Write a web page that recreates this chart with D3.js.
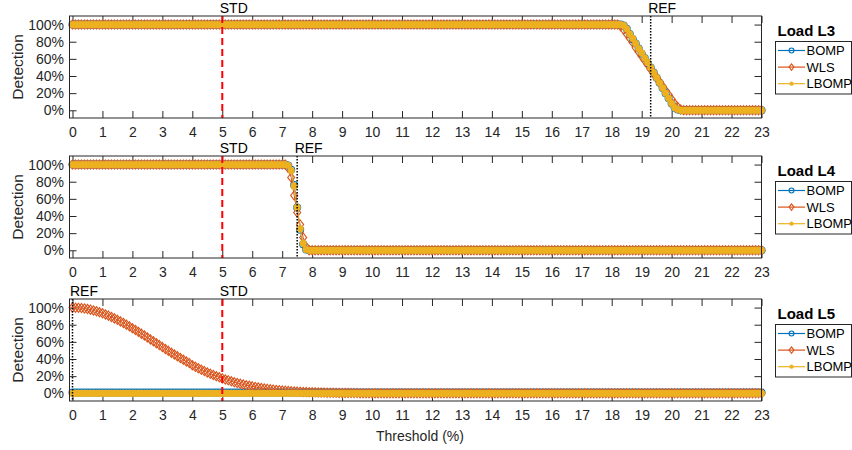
<!DOCTYPE html>
<html>
<head>
<meta charset="utf-8">
<script src="https://cdn.jsdelivr.net/npm/d3@7"></script>
<style>
    body { margin: 0; background: #fff; }
    text { font-family: "Liberation Sans", Arial, sans-serif; }
</style>
</head>
<body>
<div id="chart"></div>
<script>
// threshold (%) sampled every 0.1
const thresholds = [
    0, 0.1, 0.2, 0.3, 0.4, 0.5, 0.6, 0.7, 0.8, 0.9,
    1, 1.1, 1.2, 1.3, 1.4, 1.5, 1.6, 1.7, 1.8, 1.9,
    2, 2.1, 2.2, 2.3, 2.4, 2.5, 2.6, 2.7, 2.8, 2.9,
    3, 3.1, 3.2, 3.3, 3.4, 3.5, 3.6, 3.7, 3.8, 3.9,
    4, 4.1, 4.2, 4.3, 4.4, 4.5, 4.6, 4.7, 4.8, 4.9,
    5, 5.1, 5.2, 5.3, 5.4, 5.5, 5.6, 5.7, 5.8, 5.9,
    6, 6.1, 6.2, 6.3, 6.4, 6.5, 6.6, 6.7, 6.8, 6.9,
    7, 7.1, 7.2, 7.3, 7.4, 7.5, 7.6, 7.7, 7.8, 7.9,
    8, 8.1, 8.2, 8.3, 8.4, 8.5, 8.6, 8.7, 8.8, 8.9,
    9, 9.1, 9.2, 9.3, 9.4, 9.5, 9.6, 9.7, 9.8, 9.9,
    10, 10.1, 10.2, 10.3, 10.4, 10.5, 10.6, 10.7, 10.8, 10.9,
    11, 11.1, 11.2, 11.3, 11.4, 11.5, 11.6, 11.7, 11.8, 11.9,
    12, 12.1, 12.2, 12.3, 12.4, 12.5, 12.6, 12.7, 12.8, 12.9,
    13, 13.1, 13.2, 13.3, 13.4, 13.5, 13.6, 13.7, 13.8, 13.9,
    14, 14.1, 14.2, 14.3, 14.4, 14.5, 14.6, 14.7, 14.8, 14.9,
    15, 15.1, 15.2, 15.3, 15.4, 15.5, 15.6, 15.7, 15.8, 15.9,
    16, 16.1, 16.2, 16.3, 16.4, 16.5, 16.6, 16.7, 16.8, 16.9,
    17, 17.1, 17.2, 17.3, 17.4, 17.5, 17.6, 17.7, 17.8, 17.9,
    18, 18.1, 18.2, 18.3, 18.4, 18.5, 18.6, 18.7, 18.8, 18.9,
    19, 19.1, 19.2, 19.3, 19.4, 19.5, 19.6, 19.7, 19.8, 19.9,
    20, 20.1, 20.2, 20.3, 20.4, 20.5, 20.6, 20.7, 20.8, 20.9,
    21, 21.1, 21.2, 21.3, 21.4, 21.5, 21.6, 21.7, 21.8, 21.9,
    22, 22.1, 22.2, 22.3, 22.4, 22.5, 22.6, 22.7, 22.8, 22.9,
    23
];

// detection (%) per method, one row per unit of threshold
const bompL3 = [
    100,100,100,100,100,100,100,100,100,100,
    100,100,100,100,100,100,100,100,100,100,
    100,100,100,100,100,100,100,100,100,100,
    100,100,100,100,100,100,100,100,100,100,
    100,100,100,100,100,100,100,100,100,100,
    100,100,100,100,100,100,100,100,100,100,
    100,100,100,100,100,100,100,100,100,100,
    100,100,100,100,100,100,100,100,100,100,
    100,100,100,100,100,100,100,100,100,100,
    100,100,100,100,100,100,100,100,100,100,
    100,100,100,100,100,100,100,100,100,100,
    100,100,100,100,100,100,100,100,100,100,
    100,100,100,100,100,100,100,100,100,100,
    100,100,100,100,100,100,100,100,100,100,
    100,100,100,100,100,100,100,100,100,100,
    100,100,100,100,100,100,100,100,100,100,
    100,100,100,100,100,100,100,100,100,100,
    100,100,100,100,100,100,100,100,100,100,
    100,100,100,100,99,95,89,83,78,72,
    66,61,55,50,44,38,32,26,20,14,
    8,3,1,0,0,0,0,0,0,0,
    0,0,0,0,0,0,0,0,0,0,
    0,0,0,0,0,0,0,0,0,0,
    0
];
const wlsL3 = [
    100,100,100,100,100,100,100,100,100,100,
    100,100,100,100,100,100,100,100,100,100,
    100,100,100,100,100,100,100,100,100,100,
    100,100,100,100,100,100,100,100,100,100,
    100,100,100,100,100,100,100,100,100,100,
    100,100,100,100,100,100,100,100,100,100,
    100,100,100,100,100,100,100,100,100,100,
    100,100,100,100,100,100,100,100,100,100,
    100,100,100,100,100,100,100,100,100,100,
    100,100,100,100,100,100,100,100,100,100,
    100,100,100,100,100,100,100,100,100,100,
    100,100,100,100,100,100,100,100,100,100,
    100,100,100,100,100,100,100,100,100,100,
    100,100,100,100,100,100,100,100,100,100,
    100,100,100,100,100,100,100,100,100,100,
    100,100,100,100,100,100,100,100,100,100,
    100,100,100,100,100,100,100,100,100,100,
    100,100,100,100,100,100,100,100,100,100,
    100,100,100,98,94,89,84,79,73,68,
    63,58,53,48,43,38,33,28,23,18,
    13,8,4,1,0,0,0,0,0,0,
    0,0,0,0,0,0,0,0,0,0,
    0,0,0,0,0,0,0,0,0,0,
    0
];
const lbompL3 = [
    100,100,100,100,100,100,100,100,100,100,
    100,100,100,100,100,100,100,100,100,100,
    100,100,100,100,100,100,100,100,100,100,
    100,100,100,100,100,100,100,100,100,100,
    100,100,100,100,100,100,100,100,100,100,
    100,100,100,100,100,100,100,100,100,100,
    100,100,100,100,100,100,100,100,100,100,
    100,100,100,100,100,100,100,100,100,100,
    100,100,100,100,100,100,100,100,100,100,
    100,100,100,100,100,100,100,100,100,100,
    100,100,100,100,100,100,100,100,100,100,
    100,100,100,100,100,100,100,100,100,100,
    100,100,100,100,100,100,100,100,100,100,
    100,100,100,100,100,100,100,100,100,100,
    100,100,100,100,100,100,100,100,100,100,
    100,100,100,100,100,100,100,100,100,100,
    100,100,100,100,100,100,100,100,100,100,
    100,100,100,100,100,100,100,100,100,100,
    100,100,100,100,99,95,89,84,78,72,
    67,61,56,50,44,38,32,26,20,14,
    8,3,1,0,0,0,0,0,0,0,
    0,0,0,0,0,0,0,0,0,0,
    0,0,0,0,0,0,0,0,0,0,
    0
];

const bompL4 = [
    100,100,100,100,100,100,100,100,100,100,
    100,100,100,100,100,100,100,100,100,100,
    100,100,100,100,100,100,100,100,100,100,
    100,100,100,100,100,100,100,100,100,100,
    100,100,100,100,100,100,100,100,100,100,
    100,100,100,100,100,100,100,100,100,100,
    100,100,100,100,100,100,100,100,100,100,
    100,100,99,94,76,50,24,7,1,0,
    0,0,0,0,0,0,0,0,0,0,
    0,0,0,0,0,0,0,0,0,0,
    0,0,0,0,0,0,0,0,0,0,
    0,0,0,0,0,0,0,0,0,0,
    0,0,0,0,0,0,0,0,0,0,
    0,0,0,0,0,0,0,0,0,0,
    0,0,0,0,0,0,0,0,0,0,
    0,0,0,0,0,0,0,0,0,0,
    0,0,0,0,0,0,0,0,0,0,
    0,0,0,0,0,0,0,0,0,0,
    0,0,0,0,0,0,0,0,0,0,
    0,0,0,0,0,0,0,0,0,0,
    0,0,0,0,0,0,0,0,0,0,
    0,0,0,0,0,0,0,0,0,0,
    0,0,0,0,0,0,0,0,0,0,
    0
];
const wlsL4 = [
    100,100,100,100,100,100,100,100,100,100,
    100,100,100,100,100,100,100,100,100,100,
    100,100,100,100,100,100,100,100,100,100,
    100,100,100,100,100,100,100,100,100,100,
    100,100,100,100,100,100,100,100,100,100,
    100,100,100,100,100,100,100,100,100,100,
    100,100,100,100,100,100,100,100,100,100,
    100,100,96,85,64,44,30,15,4,0,
    0,0,0,0,0,0,0,0,0,0,
    0,0,0,0,0,0,0,0,0,0,
    0,0,0,0,0,0,0,0,0,0,
    0,0,0,0,0,0,0,0,0,0,
    0,0,0,0,0,0,0,0,0,0,
    0,0,0,0,0,0,0,0,0,0,
    0,0,0,0,0,0,0,0,0,0,
    0,0,0,0,0,0,0,0,0,0,
    0,0,0,0,0,0,0,0,0,0,
    0,0,0,0,0,0,0,0,0,0,
    0,0,0,0,0,0,0,0,0,0,
    0,0,0,0,0,0,0,0,0,0,
    0,0,0,0,0,0,0,0,0,0,
    0,0,0,0,0,0,0,0,0,0,
    0,0,0,0,0,0,0,0,0,0,
    0
];
const lbompL4 = [
    100,100,100,100,100,100,100,100,100,100,
    100,100,100,100,100,100,100,100,100,100,
    100,100,100,100,100,100,100,100,100,100,
    100,100,100,100,100,100,100,100,100,100,
    100,100,100,100,100,100,100,100,100,100,
    100,100,100,100,100,100,100,100,100,100,
    100,100,100,100,100,100,100,100,100,100,
    100,100,99,93,75,50,25,8,1,0,
    0,0,0,0,0,0,0,0,0,0,
    0,0,0,0,0,0,0,0,0,0,
    0,0,0,0,0,0,0,0,0,0,
    0,0,0,0,0,0,0,0,0,0,
    0,0,0,0,0,0,0,0,0,0,
    0,0,0,0,0,0,0,0,0,0,
    0,0,0,0,0,0,0,0,0,0,
    0,0,0,0,0,0,0,0,0,0,
    0,0,0,0,0,0,0,0,0,0,
    0,0,0,0,0,0,0,0,0,0,
    0,0,0,0,0,0,0,0,0,0,
    0,0,0,0,0,0,0,0,0,0,
    0,0,0,0,0,0,0,0,0,0,
    0,0,0,0,0,0,0,0,0,0,
    0,0,0,0,0,0,0,0,0,0,
    0
];

const bompL5 = [
    1,1,1,1,1,1,1,1,1,1,
    1,1,1,1,1,1,1,1,1,1,
    1,1,1,1,1,1,1,1,1,1,
    1,1,1,1,1,1,1,1,1,1,
    1,1,1,1,1,1,1,1,1,1,
    1,1,1,1,1,1,1,1,1,1,
    1,1,1,1,1,1,1,1,1,1,
    1,1,1,1,1,1,1,1,1,1,
    1,1,1,1,1,1,1,1,1,1,
    1,1,1,1,1,1,1,1,1,1,
    1,1,1,1,1,1,1,1,1,1,
    1,1,1,1,1,1,1,1,1,1,
    1,1,1,1,1,1,1,1,1,1,
    1,1,1,1,1,1,1,1,1,1,
    1,1,1,1,1,1,1,1,1,1,
    1,1,1,1,1,1,1,1,1,1,
    1,1,1,1,1,1,1,1,1,1,
    1,1,1,1,1,1,1,1,1,1,
    1,1,1,1,1,1,1,1,1,1,
    1,1,1,1,1,1,1,1,1,1,
    1,1,1,1,1,1,1,1,1,1,
    1,1,1,1,1,1,1,1,1,1,
    1,1,1,1,1,1,1,1,1,1,
    1
];
const wlsL5 = [
    100,99.9,99.7,99.4,98.9,98.3,97.6,96.7,95.7,94.6,
    93.4,92.0,90.6,89.1,87.4,85.7,83.9,82.0,80.1,78.1,
    76.0,73.9,71.7,69.6,67.4,65.1,62.9,60.7,58.4,56.2,
    53.9,51.7,49.5,47.4,45.3,43.2,41.1,39.1,37.1,35.2,
    32.8,31.0,29.2,27.5,25.9,24.3,22.8,21.4,20.0,18.7,
    17.4,16.2,15.1,14.0,13.0,12.0,11.1,10.3,9.5,8.8,
    8.1,7.4,6.8,6.2,5.7,5.2,4.7,4.3,3.9,3.6,
    3.3,3.0,2.7,2.4,2.2,2.0,1.8,1.6,1.5,1.3,
    1.2,1.1,1.0,0.9,0.8,0.7,0.6,0.5,0.5,0.4,
    0.4,0.3,0.3,0.2,0.2,0.2,0.1,0.1,0,0,
    0,0,0,0,0,0,0,0,0,0,
    0,0,0,0,0,0,0,0,0,0,
    0,0,0,0,0,0,0,0,0,0,
    0,0,0,0,0,0,0,0,0,0,
    0,0,0,0,0,0,0,0,0,0,
    0,0,0,0,0,0,0,0,0,0,
    0,0,0,0,0,0,0,0,0,0,
    0,0,0,0,0,0,0,0,0,0,
    0,0,0,0,0,0,0,0,0,0,
    0,0,0,0,0,0,0,0,0,0,
    0,0,0,0,0,0,0,0,0,0,
    0,0,0,0,0,0,0,0,0,0,
    0,0,0,0,0,0,0,0,0,0,
    0
];
const lbompL5 = [
    0,0,0,0,0,0,0,0,0,0,
    0,0,0,0,0,0,0,0,0,0,
    0,0,0,0,0,0,0,0,0,0,
    0,0,0,0,0,0,0,0,0,0,
    0,0,0,0,0,0,0,0,0,0,
    0,0,0,0,0,0,0,0,0,0,
    0,0,0,0,0,0,0,0,0,0,
    0,0,0,0,0,0,0,0,0,0,
    0,0,0,0,0,0,0,0,0,0,
    0,0,0,0,0,0,0,0,0,0,
    0,0,0,0,0,0,0,0,0,0,
    0,0,0,0,0,0,0,0,0,0,
    0,0,0,0,0,0,0,0,0,0,
    0,0,0,0,0,0,0,0,0,0,
    0,0,0,0,0,0,0,0,0,0,
    0,0,0,0,0,0,0,0,0,0,
    0,0,0,0,0,0,0,0,0,0,
    0,0,0,0,0,0,0,0,0,0,
    0,0,0,0,0,0,0,0,0,0,
    0,0,0,0,0,0,0,0,0,0,
    0,0,0,0,0,0,0,0,0,0,
    0,0,0,0,0,0,0,0,0,0,
    0,0,0,0,0,0,0,0,0,0,
    0
];

const loadNames = ['Load L3', 'Load L4', 'Load L5'];
const seriesNames = ['BOMP', 'WLS', 'LBOMP'];
const stdThreshold = [5, 5, 5];
const refThreshold = [19.3, 7.5, 0];
const xTickValues = [0, 1, 2, 3, 4, 5, 6, 7, 8, 9, 10, 11, 12, 13, 14, 15, 16, 17, 18, 19, 20, 21, 22, 23];
const yTickValues = [0, 20, 40, 60, 80, 100];

const panelSeries = [
    [bompL3, wlsL3, lbompL3],
    [bompL4, wlsL4, lbompL4],
    [bompL5, wlsL5, lbompL5],
];

const width = 852;
const height = 450;
const plotLeft = 69.5;
const plotRight = 761.5;
const panelTops = [16, 156, 299];
const panelHeight = 102;
const tickLen = 7;
const axisColor = '#262626';
const colors = ['#0072BD', '#D95319', '#EDB120'];

const svg = d3.select('#chart').append('svg')
    .attr('width', width)
    .attr('height', height);

const x = d3.scaleLinear().domain([-0.1, 23]).range([plotLeft, plotRight]);

// marker drawers: circle, diamond, filled dot
const drawMarker = function (sel, kind, color, size) {
    if (kind === 0) {
        sel.append('circle')
            .attr('r', 3.5 * size)
            .attr('fill', 'none')
            .attr('stroke', color)
            .attr('stroke-width', 1.1);
    } else if (kind === 1) {
        const h = 4.6 * size, w = 3.5 * size;
        sel.append('path')
            .attr('d', 'M0,' + (-h) + 'L' + w + ',0L0,' + h + 'L' + (-w) + ',0Z')
            .attr('fill', 'none')
            .attr('stroke', color)
            .attr('stroke-width', 1.1);
    } else {
        sel.append('circle')
            .attr('r', 3.4 * size)
            .attr('fill', color)
            .attr('stroke', color)
            .attr('stroke-width', 0.5);
    }
};

panelSeries.forEach(function (seriesList, k) {
    const top = panelTops[k];
    const bottom = top + panelHeight;
    const y = d3.scaleLinear().domain([-9, 110]).range([bottom, top]);
    const g = svg.append('g');

    // axes (ticks point inward, mirrored on top/right)
    g.append('g')
        .attr('transform', 'translate(0,' + bottom + ')')
        .call(d3.axisBottom(x).tickValues(xTickValues).tickSizeInner(-tickLen).tickSizeOuter(0).tickPadding(9))
        .call(function (a) {
            a.select('.domain').remove();
            a.selectAll('line').attr('stroke', axisColor);
            a.selectAll('text').attr('fill', axisColor).style('font-size', '14px');
        });
    g.append('g')
        .attr('transform', 'translate(0,' + top + ')')
        .call(d3.axisTop(x).tickValues(xTickValues).tickSizeInner(-tickLen).tickSizeOuter(0).tickFormat(''))
        .call(function (a) {
            a.select('.domain').remove();
            a.selectAll('line').attr('stroke', axisColor);
        });
    g.append('g')
        .attr('transform', 'translate(' + plotLeft + ',0)')
        .call(d3.axisLeft(y).tickValues(yTickValues).tickSizeInner(-tickLen).tickSizeOuter(0).tickPadding(5.5)
            .tickFormat(function (d) { return d + '%'; }))
        .call(function (a) {
            a.select('.domain').remove();
            a.selectAll('line').attr('stroke', axisColor);
            a.selectAll('text').attr('fill', axisColor).style('font-size', '14px');
        });
    g.append('g')
        .attr('transform', 'translate(' + plotRight + ',0)')
        .call(d3.axisRight(y).tickValues(yTickValues).tickSizeInner(-tickLen).tickSizeOuter(0).tickFormat(''))
        .call(function (a) {
            a.select('.domain').remove();
            a.selectAll('line').attr('stroke', axisColor);
        });

    // data
    const line = d3.line()
        .x(function (d) { return x(d[0]); })
        .y(function (d) { return y(d[1]); });

    seriesList.forEach(function (values, s) {
        const pts = thresholds.map(function (t, i) { return [t, values[i]]; });
        g.append('path')
            .datum(pts)
            .attr('d', line)
            .attr('fill', 'none')
            .attr('stroke', colors[s])
            .attr('stroke-width', 1);
        const m = g.append('g').selectAll('g')
            .data(pts)
            .enter()
            .append('g')
            .attr('transform', function (d) { return 'translate(' + x(d[0]) + ',' + y(d[1]) + ')'; });
        drawMarker(m, s, colors[s], 1);
    });

    // STD / REF markers
    g.append('line')
        .attr('x1', x(stdThreshold[k])).attr('x2', x(stdThreshold[k]))
        .attr('y1', top).attr('y2', bottom)
        .attr('stroke', '#FF0000')
        .attr('stroke-width', 2)
        .attr('stroke-dasharray', '7,4');
    g.append('line')
        .attr('x1', x(refThreshold[k])).attr('x2', x(refThreshold[k]))
        .attr('y1', top).attr('y2', bottom)
        .attr('stroke', '#000')
        .attr('stroke-width', 1.5)
        .attr('stroke-dasharray', '1.5,1.5');
    g.append('text')
        .attr('x', x(stdThreshold[k]) - 2.5)
        .attr('y', top - 3.5)
        .style('font-size', '14px')
        .text('STD');
    g.append('text')
        .attr('x', x(refThreshold[k]) - 2.5)
        .attr('y', top - 3.5)
        .style('font-size', '14px')
        .text('REF');

    // axes box
    g.append('rect')
        .attr('x', plotLeft).attr('y', top)
        .attr('width', plotRight - plotLeft).attr('height', panelHeight)
        .attr('fill', 'none')
        .attr('stroke', axisColor)
        .attr('stroke-width', 1);

    // y label
    g.append('text')
        .attr('transform', 'translate(23,' + (top + panelHeight / 2) + ') rotate(-90)')
        .attr('text-anchor', 'middle')
        .attr('fill', axisColor)
        .style('font-size', '15.5px')
        .text('Detection');

    // legend
    const lg = g.append('g');
    lg.append('text')
        .attr('x', 777.5)
        .attr('y', top + 19.5)
        .style('font-size', '15px')
        .style('font-weight', 'bold')
        .text(loadNames[k]);
    lg.append('rect')
        .attr('x', 775.5).attr('y', top + 25.5)
        .attr('width', 76).attr('height', 52.5)
        .attr('fill', '#fff')
        .attr('stroke', axisColor)
        .attr('stroke-width', 1);
    seriesNames.forEach(function (name, s) {
        const ry = top + 34.5 + s * 16.6;
        lg.append('line')
            .attr('x1', 778).attr('x2', 805)
            .attr('y1', ry).attr('y2', ry)
            .attr('stroke', colors[s])
            .attr('stroke-width', 1.2);
        const mk = lg.append('g').attr('transform', 'translate(791.5,' + ry + ')');
        drawMarker(mk, s, colors[s], s === 2 ? 0.55 : 0.7);
        lg.append('text')
            .attr('x', 806.5)
            .attr('y', ry)
            .attr('dy', '0.35em')
            .attr('fill', '#000')
            .style('font-size', '13px')
            .text(name);
    });
});

svg.append('text')
    .attr('x', 420)
    .attr('y', 441)
    .attr('text-anchor', 'middle')
    .attr('fill', axisColor)
    .style('font-size', '14px')
    .text('Threshold (%)');
</script>
</body>
</html>
